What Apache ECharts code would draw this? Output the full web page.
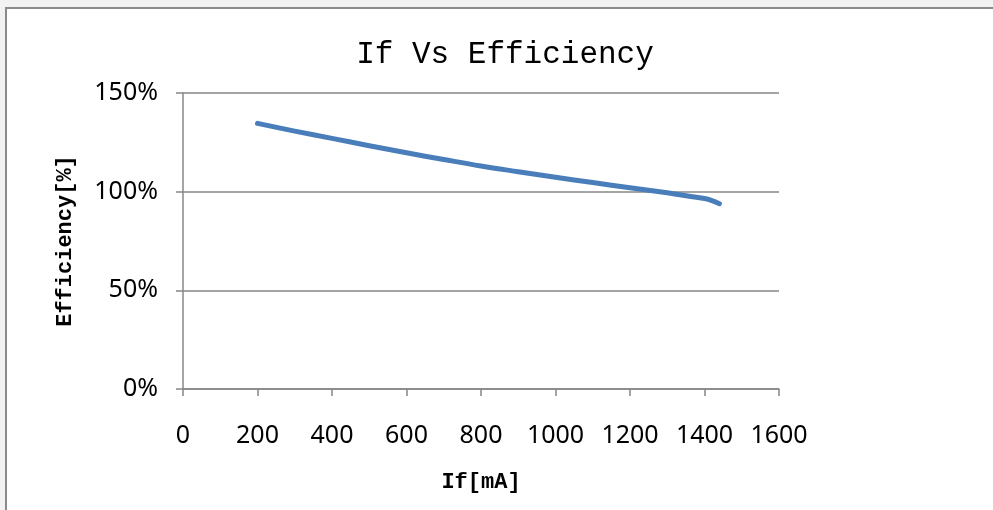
<!DOCTYPE html>
<html>
<head>
<meta charset="utf-8">
<script src="https://cdn.jsdelivr.net/npm/echarts@6/dist/echarts.min.js"></script>
<style>
  html, body { margin: 0; padding: 0; background: #f2f2f3; }
  #chart { width: 993px; height: 510px; }
</style>
</head>
<body>
<div id="chart"></div>
<script>
// Forward current (mA) against measured efficiency (%)
const currentMA = [200, 300, 400, 500, 600, 700, 800, 900, 1000, 1100, 1200, 1300, 1400, 1420, 1440];
const efficiencyPct = [134.6, 130.7, 127.0, 123.3, 119.7, 116.3, 113.0, 110.1, 107.3, 104.6, 102.0, 99.4, 96.5, 95.5, 93.9];
const xTicks = { min: 0, max: 1600, step: 200 };
const yTicks = { min: 0, max: 150, step: 50 };

const chart = echarts.init(document.getElementById('chart'), null, { renderer: 'canvas' });

const gridColor = '#878787';
const monoFont = '"Liberation Mono", "DejaVu Sans Mono", monospace';
const sansFont = '"Noto Sans", "Open Sans", sans-serif';

chart.setOption({
  backgroundColor: 'transparent',
  animation: false,
  graphic: [{
    type: 'rect',
    z: -10,
    shape: { x: 6, y: 8, width: 1000, height: 520 },
    style: { fill: '#ffffff', stroke: '#8a8a8a', lineWidth: 2 }
  }],
  title: {
    text: 'If Vs Efficiency',
    left: 500,
    top: 34,
    textAlign: 'center',
    textStyle: { fontFamily: monoFont, fontSize: 31, fontWeight: 'normal', color: '#000' }
  },
  grid: { left: 183, right: 214, top: 93, bottom: 121, containLabel: false },
  xAxis: {
    type: 'value',
    min: xTicks.min,
    max: xTicks.max,
    interval: xTicks.step,
    name: 'If[mA]',
    nameLocation: 'middle',
    nameGap: 82,
    nameTextStyle: { fontFamily: monoFont, fontSize: 22, fontWeight: 'bold', color: '#000' },
    axisLine: { show: true, onZero: false, lineStyle: { color: gridColor, width: 1.5 } },
    axisTick: { show: true, inside: false, length: 7, lineStyle: { color: gridColor, width: 1.5 } },
    axisLabel: { margin: 34, formatter: (v) => String(v), fontFamily: sansFont, fontSize: 25, color: '#000' },
    splitLine: { show: false }
  },
  yAxis: {
    type: 'value',
    min: yTicks.min,
    max: yTicks.max,
    interval: yTicks.step,
    name: 'Efficiency[%]',
    nameLocation: 'middle',
    nameGap: 107,
    nameRotate: 90,
    nameTextStyle: { fontFamily: monoFont, fontSize: 22, fontWeight: 'bold', color: '#000' },
    axisLine: { show: true, lineStyle: { color: gridColor, width: 1.5 } },
    axisTick: { show: true, inside: false, length: 7, lineStyle: { color: gridColor, width: 1.5 } },
    axisLabel: { margin: 25, formatter: '{value}%', fontFamily: sansFont, fontSize: 25, color: '#000' },
    splitLine: { show: true, lineStyle: { color: gridColor, width: 1.5 } }
  },
  series: [{
    type: 'line',
    data: currentMA.map((x, i) => [x, efficiencyPct[i]]),
    smooth: 0.4,
    showSymbol: false,
    lineStyle: { color: '#4a7ebb', width: 5, cap: 'round', join: 'round' },
    itemStyle: { color: '#4a7ebb' }
  }]
});
</script>
</body>
</html>
